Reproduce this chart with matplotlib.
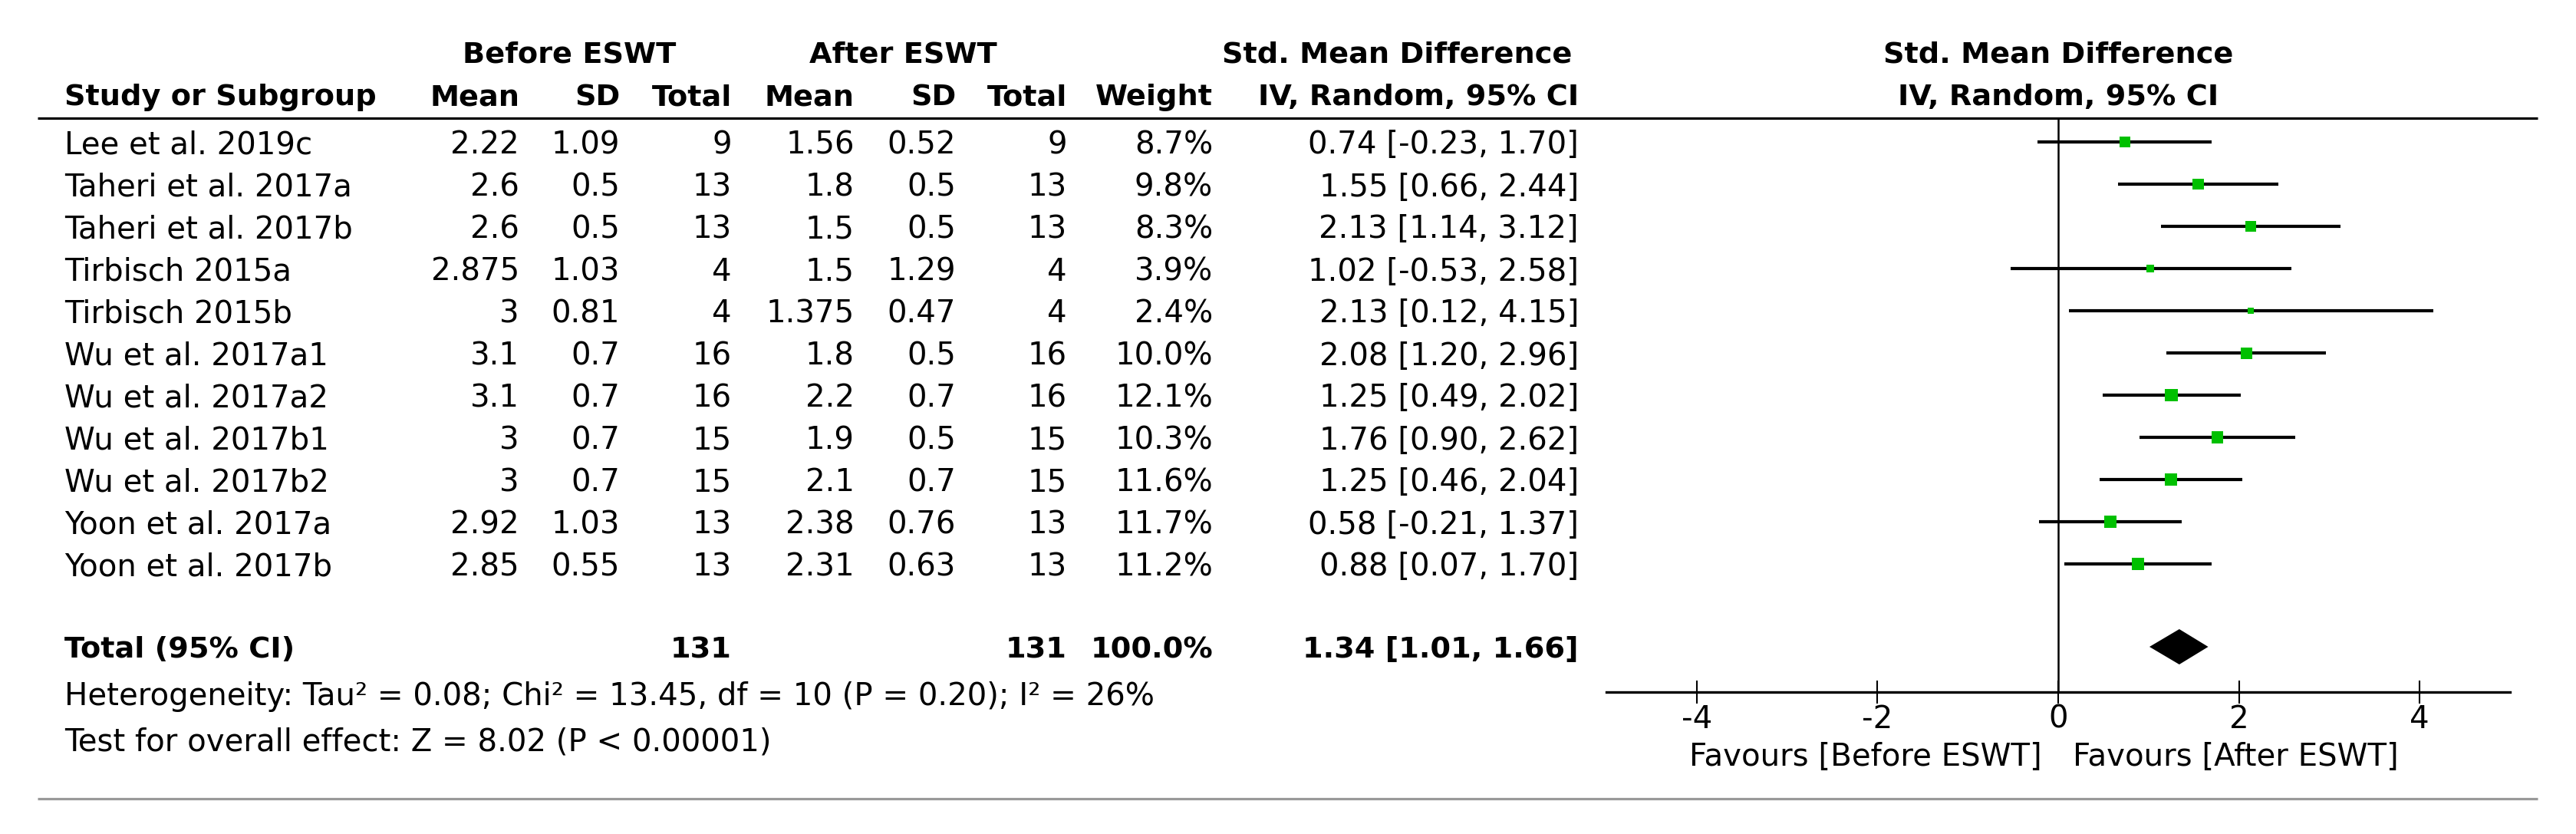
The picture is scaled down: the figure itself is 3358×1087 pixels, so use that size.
import matplotlib
matplotlib.use("Agg")
import matplotlib.pyplot as plt
import numpy as np

plt.rcParams['font.family'] = ['DejaVu Sans']
plt.rcParams['axes.unicode_minus'] = False

# ---------------- data ----------------
studies = ["Lee et al. 2019c", "Taheri et al. 2017a", "Taheri et al. 2017b",
           "Tirbisch 2015a", "Tirbisch 2015b", "Wu et al. 2017a1", "Wu et al. 2017a2",
           "Wu et al. 2017b1", "Wu et al. 2017b2", "Yoon et al. 2017a", "Yoon et al. 2017b"]
before_mean = [2.22, 2.6, 2.6, 2.875, 3, 3.1, 3.1, 3, 3, 2.92, 2.85]
before_sd = [1.09, 0.5, 0.5, 1.03, 0.81, 0.7, 0.7, 0.7, 0.7, 1.03, 0.55]
before_n = [9, 13, 13, 4, 4, 16, 16, 15, 15, 13, 13]
after_mean = [1.56, 1.8, 1.5, 1.5, 1.375, 1.8, 2.2, 1.9, 2.1, 2.38, 2.31]
after_sd = [0.52, 0.5, 0.5, 1.29, 0.47, 0.5, 0.7, 0.5, 0.7, 0.76, 0.63]
after_n = [9, 13, 13, 4, 4, 16, 16, 15, 15, 13, 13]
weight = [8.7, 9.8, 8.3, 3.9, 2.4, 10.0, 12.1, 10.3, 11.6, 11.7, 11.2]
smd = [0.74, 1.55, 2.13, 1.02, 2.13, 2.08, 1.25, 1.76, 1.25, 0.58, 0.88]
ci_low = [-0.23, 0.66, 1.14, -0.53, 0.12, 1.20, 0.49, 0.90, 0.46, -0.21, 0.07]
ci_high = [1.70, 2.44, 3.12, 2.58, 4.15, 2.96, 2.02, 2.62, 2.04, 1.37, 1.70]
total_before = 131
total_after = 131
total_weight = 100.0
total_smd = 1.34
total_low = 1.01
total_high = 1.66
het_text = "Heterogeneity: Tau\u00b2 = 0.08; Chi\u00b2 = 13.45, df = 10 (P = 0.20); I\u00b2 = 26%"
effect_text = "Test for overall effect: Z = 8.02 (P < 0.00001)"
xticks = [-4, -2, 0, 2, 4]
favours_left = "Favours [Before ESWT]"
favours_right = "Favours [After ESWT]"

# ---------------- layout ----------------
W, H = 3358, 1087
DPI = 100
fig = plt.figure(figsize=(W / DPI, H / DPI), dpi=DPI)

row0_px, row_h = 185.0, 55.0
def px2row(py):
    return (py - row0_px) / row_h
ylim = (px2row(H), px2row(0))

tx = fig.add_axes([0, 0, 1, 1])
tx.set_xlim(0, W)
tx.set_ylim(*ylim)
tx.axis('off')

FS = 29
FSB = 27.5
def put(x, y, s, ha='right', bold=False, **kw):
    tx.text(x, y, s, ha=ha, va='center_baseline', fontsize=FSB if bold else FS,
            fontweight='bold' if bold else 'normal', color='black', **kw)

# header
y_h1, y_h2 = px2row(67), px2row(123)
put(742, y_h1, "Before ESWT", ha='center', bold=True)
put(1177, y_h1, "After ESWT", ha='center', bold=True)
put(1821, y_h1, "Std. Mean Difference", ha='center', bold=True)
put(2683, y_h1, "Std. Mean Difference", ha='center', bold=True)
put(84, y_h2, "Study or Subgroup", ha='left', bold=True)
col_x = [677, 808, 954, 1114, 1246, 1391, 1581]
for x, s in zip(col_x, ["Mean", "SD", "Total", "Mean", "SD", "Total", "Weight"]):
    put(x, y_h2, s, bold=True)
put(2058, y_h2, "IV, Random, 95% CI", bold=True)
put(2683, y_h2, "IV, Random, 95% CI", ha='center', bold=True)

y_line = px2row(154)
tx.plot([49, 3308], [y_line, y_line], color='black', lw=2.3, solid_capstyle='butt')

for i, name in enumerate(studies):
    put(84, i, name, ha='left')
    vals = [f"{before_mean[i]:g}", f"{before_sd[i]:g}", f"{before_n[i]}",
            f"{after_mean[i]:g}", f"{after_sd[i]:g}", f"{after_n[i]}",
            f"{weight[i]:.1f}%"]
    for x, s in zip(col_x, vals):
        put(x, i, s)
    put(2058, i, f"{smd[i]:.2f} [{ci_low[i]:.2f}, {ci_high[i]:.2f}]")

y_tot = px2row(843)
put(84, y_tot, "Total (95% CI)", ha='left', bold=True)
put(col_x[2], y_tot, f"{total_before}", bold=True)
put(col_x[5], y_tot, f"{total_after}", bold=True)
put(col_x[6], y_tot, f"{total_weight:.1f}%", bold=True)
put(2058, y_tot, f"{total_smd:.2f} [{total_low:.2f}, {total_high:.2f}]", bold=True)
put(84, px2row(903), het_text, ha='left')
put(84, px2row(963), effect_text, ha='left')

y_bot = px2row(1041)
tx.plot([49, 3308], [y_bot, y_bot], color='#999999', lw=2.3, solid_capstyle='butt')

# ---------------- forest ----------------
x0, x1 = 2094, 3272
ax = fig.add_axes([x0 / W, 0, (x1 - x0) / W, 1])
ax.patch.set_visible(False)
ax.set_xlim(-5, 5)
ax.set_ylim(*ylim)
for sp in ['top', 'left', 'right']:
    ax.spines[sp].set_visible(False)
y_axis = px2row(902)
ax.spines['bottom'].set_position(('data', y_axis))
ax.spines['bottom'].set_linewidth(2.4)
ax.set_yticks([])
ax.set_xticks(xticks)
ax.set_xticklabels([f"{t}" for t in xticks])
ax.tick_params(axis='x', direction='inout', length=21, width=1.5, pad=1, labelsize=FS)

ax.plot([0, 0], [y_line, y_axis], color='black', lw=1.8, solid_capstyle='butt')

rows = np.arange(len(studies))
ax.hlines(rows, ci_low, ci_high, color='black', lw=3.0)
side_pt = 15 * np.sqrt(np.array(weight) / 10.0) * 0.72
ax.scatter(smd, rows, marker='s', s=side_pt ** 2, color='#00C000', linewidths=0, zorder=3)

dh = 23 / row_h
ax.fill([total_low, total_smd, total_high, total_smd],
        [y_tot, y_tot - dh, y_tot, y_tot + dh], color='black', lw=0)

y_fav = px2row(983)
tx.text(2662, y_fav, favours_left, ha='right', va='center_baseline', fontsize=FS)
tx.text(2702, y_fav, favours_right, ha='left', va='center_baseline', fontsize=FS)

fig.savefig("out.png", dpi=DPI)
